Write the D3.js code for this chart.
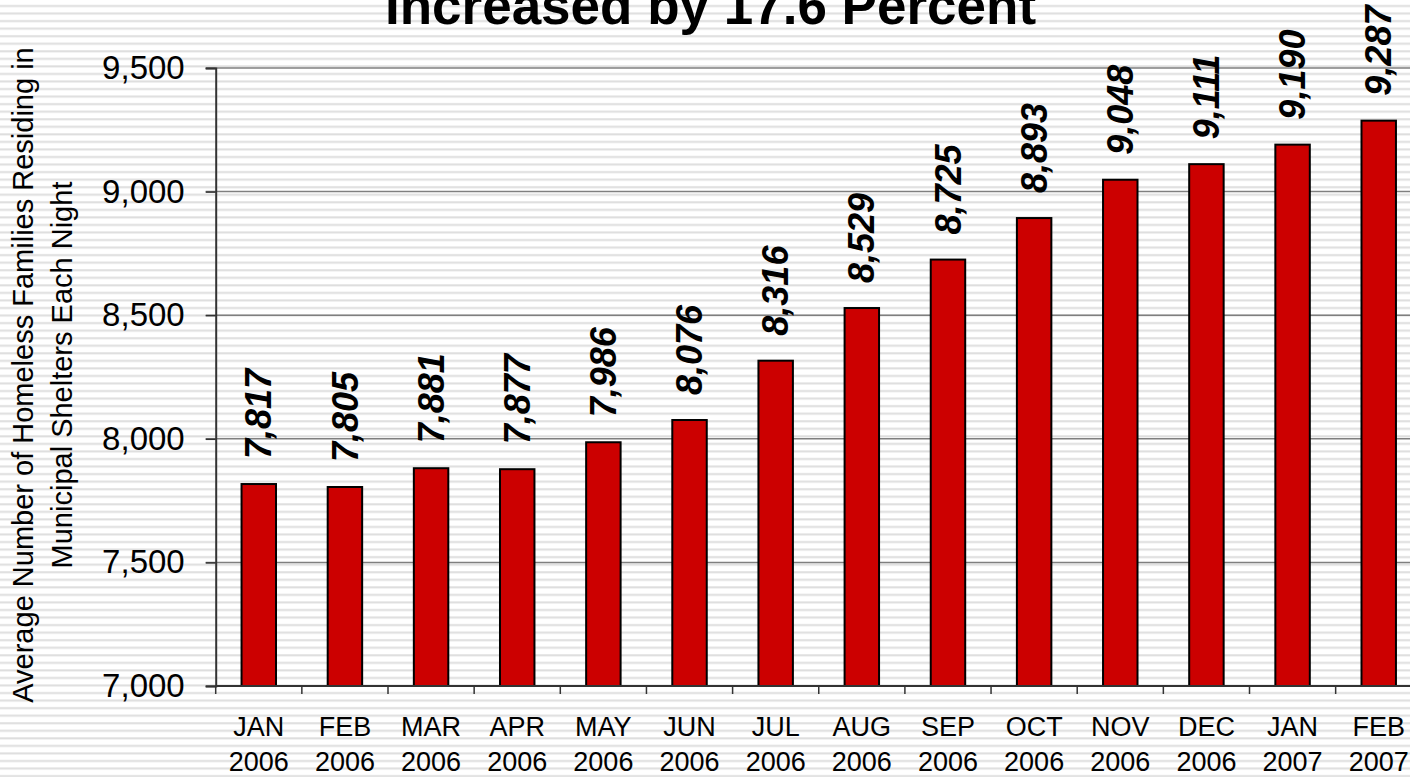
<!DOCTYPE html>
<html>
<head>
<meta charset="utf-8">
<script src="https://cdn.jsdelivr.net/npm/d3@7"></script>
<style>
  body { margin: 0; background: #fff; }
  svg { display: block; font-family: "Liberation Sans", Arial, sans-serif; }
</style>
</head>
<body>
<script>
// monthly data
const months = ["JAN", "FEB", "MAR", "APR", "MAY", "JUN", "JUL", "AUG", "SEP", "OCT", "NOV", "DEC", "JAN", "FEB"];
const years = ["2006", "2006", "2006", "2006", "2006", "2006", "2006", "2006", "2006", "2006", "2006", "2006", "2007", "2007"];
const families = [7817, 7805, 7881, 7877, 7986, 8076, 8316, 8529, 8725, 8893, 9048, 9111, 9190, 9287];
const yTicks = [7000, 7500, 8000, 8500, 9000, 9500];
const titleText = "Increased by 17.6 Percent";
const yTitle = ["Average Number of Homeless Families Residing in", "Municipal Shelters Each Night"];

const width = 1410, height = 777;
const plotLeft = 215.7, plotRight = 1421.8, plotTop = 68, plotBottom = 686;

const svg = d3.select('body').append('svg')
  .attr('width', width)
  .attr('height', height);

// striped slide background
const pat = svg.append('defs').append('pattern')
  .attr('id', 'stripes')
  .attr('patternUnits', 'userSpaceOnUse')
  .attr('width', 10)
  .attr('height', 7.55);
pat.append('rect').attr('width', 10).attr('height', 7.55).attr('fill', '#ffffff');
pat.append('rect').attr('y', 5).attr('width', 10).attr('height', 2).attr('fill', '#dedede');
svg.append('rect').attr('width', width).attr('height', height).attr('fill', 'url(#stripes)');

const data = families.map((v, i) => ({ i: i, month: months[i], year: years[i], value: v }));

const x = d3.scaleBand()
  .domain(d3.range(families.length))
  .range([plotLeft, plotRight])
  .paddingInner(0.6)
  .paddingOuter(0.3);

const y = d3.scaleLinear()
  .domain([7000, 9500])
  .range([plotBottom, plotTop]);

// gridlines
svg.append('g')
  .selectAll('line')
  .data(yTicks)
  .join('line')
  .attr('x1', plotLeft - 10)
  .attr('x2', plotRight)
  .attr('y1', d => y(d))
  .attr('y2', d => y(d))
  .attr('stroke', '#7f7f7f')
  .attr('stroke-width', 1.5);

// y axis
const yAxis = svg.append('g')
  .attr('transform', `translate(${plotLeft},0)`)
  .call(d3.axisLeft(y).tickValues(yTicks).tickFormat(d3.format(',')).tickSize(10).tickPadding(21));
yAxis.select('.domain').attr('stroke', '#333').attr('stroke-width', 2);
yAxis.selectAll('.tick line').attr('stroke', '#333').attr('stroke-width', 1.5);
yAxis.selectAll('.tick text')
  .attr('font-size', 33)
  .attr('fill', '#000')
  .style('font-family', '"Liberation Sans", Arial, sans-serif');

// bars
svg.append('g')
  .selectAll('rect')
  .data(data)
  .join('rect')
  .attr('x', d => x(d.i))
  .attr('y', d => y(d.value))
  .attr('width', x.bandwidth())
  .attr('height', d => y(7000) - y(d.value))
  .attr('fill', '#cc0000')
  .attr('stroke', '#000')
  .attr('stroke-width', 2);

// x axis line and category ticks
svg.append('line')
  .attr('x1', plotLeft).attr('x2', plotRight)
  .attr('y1', plotBottom).attr('y2', plotBottom)
  .attr('stroke', '#333').attr('stroke-width', 2);

svg.append('g')
  .selectAll('line')
  .data(d3.range(families.length + 1))
  .join('line')
  .attr('x1', d => plotLeft + d * x.step())
  .attr('x2', d => plotLeft + d * x.step())
  .attr('y1', plotBottom)
  .attr('y2', plotBottom + 8)
  .attr('stroke', '#333')
  .attr('stroke-width', 1.5);

// category labels (two lines)
const xl = svg.append('g')
  .selectAll('text')
  .data(data)
  .join('text')
  .attr('text-anchor', 'middle')
  .attr('font-size', 27)
  .attr('fill', '#000');
xl.append('tspan')
  .attr('x', d => x(d.i) + x.bandwidth() / 2)
  .attr('y', 736)
  .text(d => d.month);
xl.append('tspan')
  .attr('x', d => x(d.i) + x.bandwidth() / 2)
  .attr('y', 771)
  .text(d => d.year);

// value labels, rotated
svg.append('g')
  .selectAll('text')
  .data(data)
  .join('text')
  .attr('transform', d => `translate(${x(d.i) + x.bandwidth() / 2},${y(d.value) - 25}) rotate(-90)`)
  .attr('dy', '0.35em')
  .attr('font-size', 36)
  .attr('font-weight', 'bold')
  .attr('font-style', 'italic')
  .attr('fill', '#000')
  .text(d => d3.format(',')(d.value));

// y axis title
svg.append('g')
  .selectAll('text')
  .data(yTitle)
  .join('text')
  .attr('transform', (d, i) => `translate(${33 + i * 38.5},375) rotate(-90)`)
  .attr('text-anchor', 'middle')
  .attr('font-size', 29)
  .attr('fill', '#000')
  .text(d => d);

// title (partly off the top of the slide)
svg.append('text')
  .attr('x', 710.5)
  .attr('y', 24)
  .attr('text-anchor', 'middle')
  .attr('font-size', 53)
  .attr('font-weight', 'bold')
  .attr('fill', '#000')
  .text(titleText);
</script>
</body>
</html>
